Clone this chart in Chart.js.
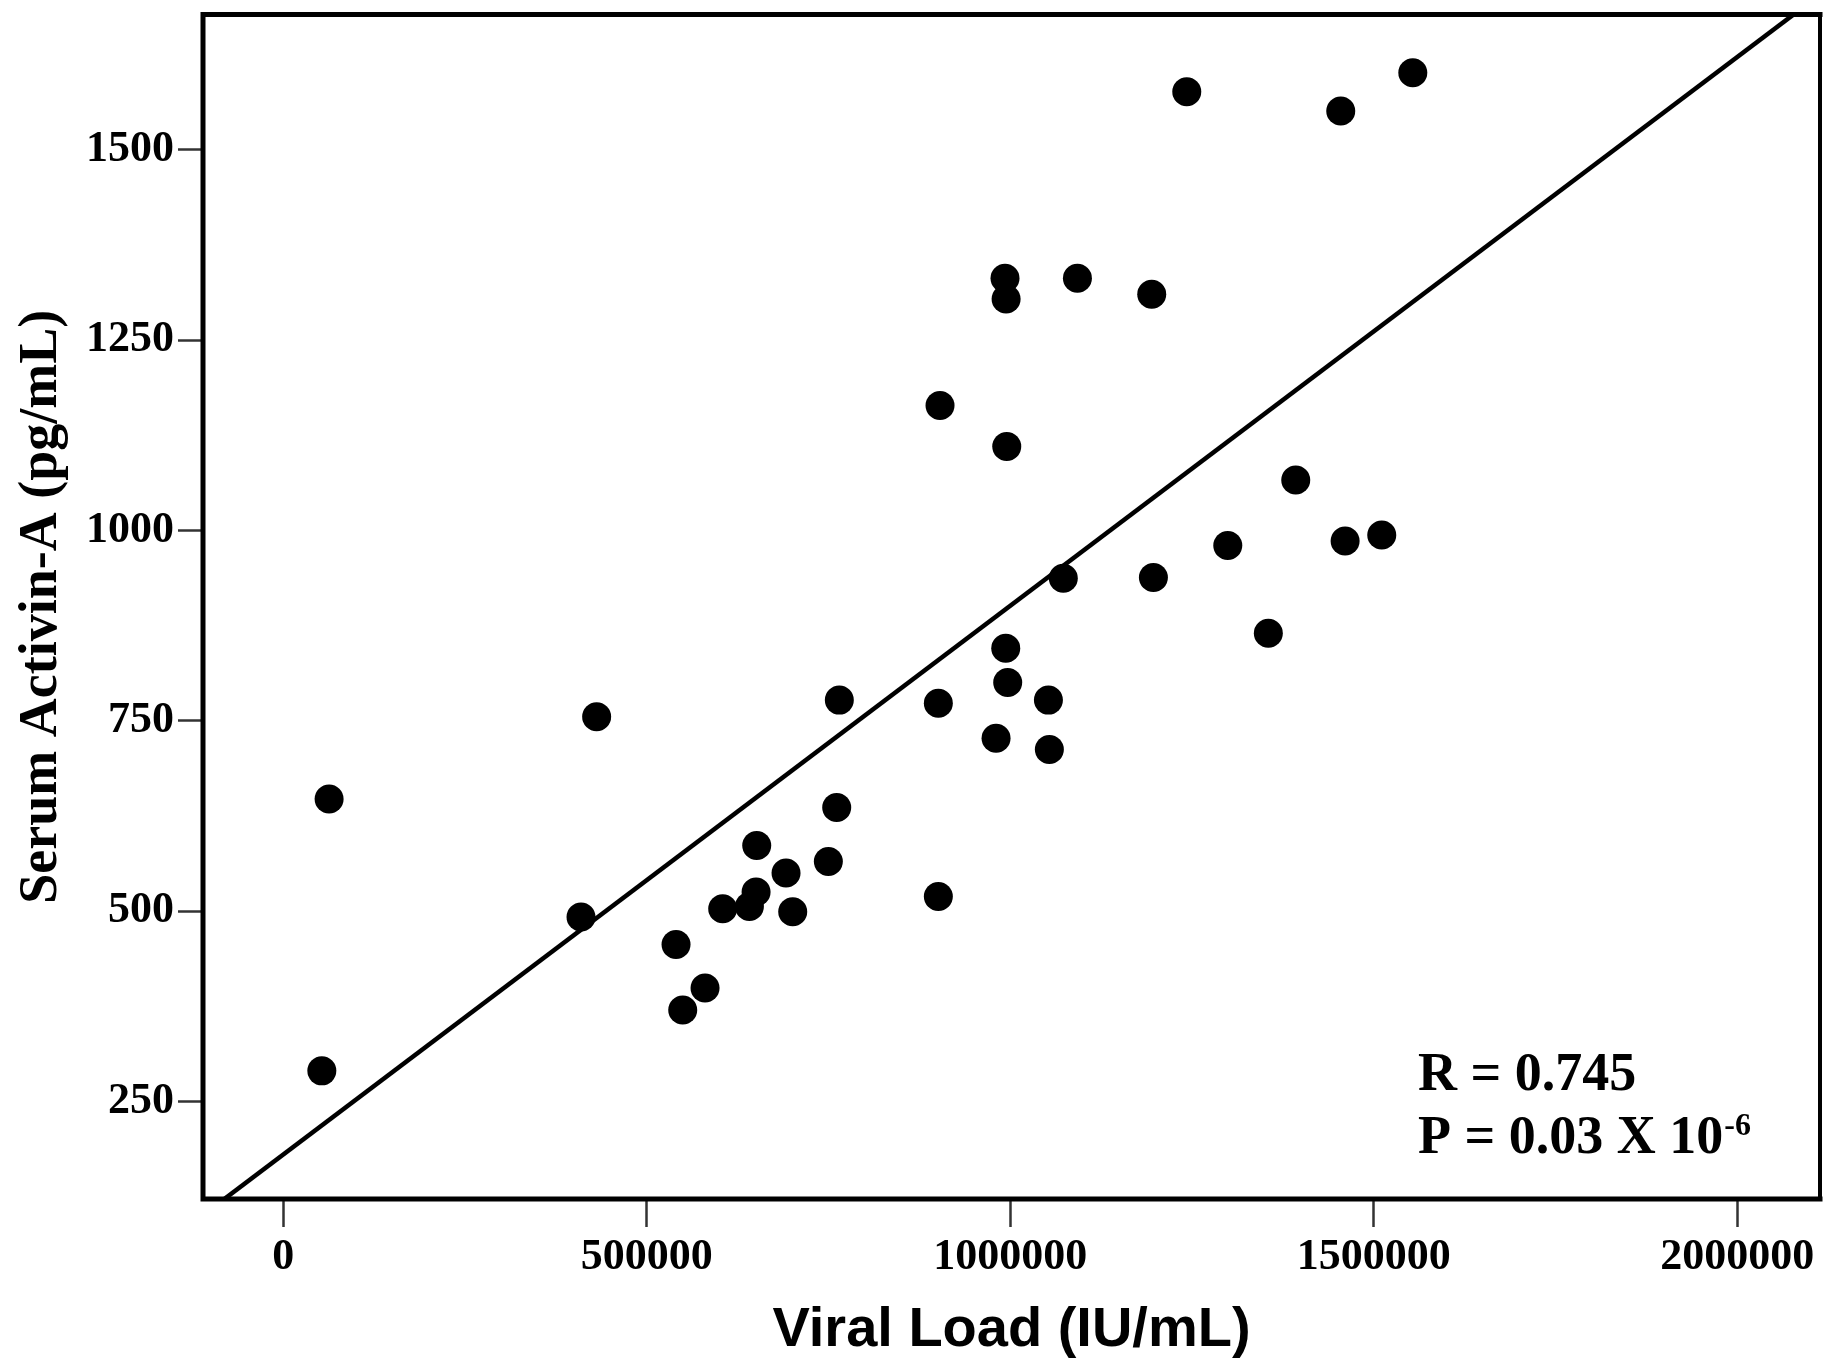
<!DOCTYPE html>
<html>
<head>
<meta charset="utf-8">
<title>Serum Activin-A vs Viral Load</title>
<script src="https://cdn.jsdelivr.net/npm/chart.js@4.4.0/dist/chart.umd.min.js"></script>
<style>
  html, body { margin: 0; padding: 0; background: #fff; }
  canvas { display: block; }
</style>
</head>
<body>
<canvas id="scatterChart" width="1843" height="1364"></canvas>
<script>
// Viral load (IU/mL) per patient
const viralLoad = [53000, 63000, 409500, 431000, 540200, 549400, 580100, 604400, 641100, 650300,
    651200, 691500, 700700, 749700, 761200, 764800, 901000, 901000, 903300, 980400,
    992700, 994200, 995100, 993700, 996400, 1052400, 1053700, 1072900, 1092300, 1194500,
    1196800, 1242700, 1299100, 1354900, 1392600, 1454500, 1460500, 1510900, 1553600];

// Serum Activin-A (pg/mL) per patient
const activinA = [290, 647, 492, 755, 456, 370, 399, 503, 506, 525,
    586, 550, 499, 565, 636, 777, 773, 519, 1164, 727,
    1331, 1304, 1110, 845, 800, 777, 712, 937, 1331, 1310,
    938, 1576, 980, 865, 1066, 1551, 986, 994, 1601];

// Fitted line, ends (clipped by the plot frame)
const fitX = [-200000, 2200000];
const fitY = [36, 1766];

// Axis ticks
const xTicks = [0, 500000, 1000000, 1500000, 2000000];
const yTicks = [250, 500, 750, 1000, 1250, 1500];

// Statistics text
const statR = 'R = 0.745';
const statP = 'P = 0.03 X 10';
const statExp = '-6';

// Draw the black box round the plot area
const framePlugin = {
    id: 'frame',
    afterDatasetsDraw(chart) {
        const { ctx, chartArea: a } = chart;
        ctx.save();
        ctx.strokeStyle = '#000';
        ctx.lineCap = 'square';
        ctx.lineWidth = 5;
        ctx.beginPath();
        ctx.moveTo(a.right, a.top);
        ctx.lineTo(a.left, a.top);
        ctx.lineTo(a.left, a.bottom);
        ctx.lineTo(a.right, a.bottom);
        ctx.stroke();
        ctx.lineWidth = 4;
        ctx.beginPath();
        ctx.moveTo(a.right, a.top);
        ctx.lineTo(a.right, a.bottom);
        ctx.stroke();
        ctx.restore();
    }
};

// R and P values in the lower right corner
const statsPlugin = {
    id: 'stats',
    afterDraw(chart) {
        const { ctx, chartArea: a } = chart;
        const x = a.right - 402;
        ctx.save();
        ctx.fillStyle = '#000';
        ctx.textAlign = 'left';
        ctx.textBaseline = 'alphabetic';
        ctx.font = 'bold 54px "Liberation Serif"';
        ctx.fillText(statR, x, a.bottom - 109);
        ctx.fillText(statP, x, a.bottom - 46);
        const w = ctx.measureText(statP).width;
        ctx.font = 'bold 32px "Liberation Serif"';
        ctx.fillText(statExp, x + w + 1, a.bottom - 64);
        ctx.restore();
    }
};

const tickFont = { family: 'Liberation Serif', weight: 'bold', size: 44 };

const ctx = document.getElementById('scatterChart').getContext('2d');
const chart = new Chart(ctx, {
    type: 'scatter',
    data: {
        datasets: [
            {
                label: 'Patients',
                data: viralLoad.map((v, i) => ({ x: v, y: activinA[i] })),
                backgroundColor: '#000',
                borderWidth: 0,
                pointRadius: 14.5,
                pointHoverRadius: 14.5,
                order: 1
            },
            {
                label: 'Fit',
                data: fitX.map((v, i) => ({ x: v, y: fitY[i] })),
                showLine: true,
                borderColor: '#000',
                borderWidth: 4.5,
                pointRadius: 0,
                clip: 0,
                order: 2
            }
        ]
    },
    options: {
        responsive: false,
        animation: false,
        devicePixelRatio: 1,
        layout: { padding: { left: 0, top: 14, right: 23, bottom: 0 } },
        plugins: {
            legend: { display: false },
            tooltip: { enabled: false }
        },
        scales: {
            x: {
                type: 'linear',
                min: -110450,
                max: 2113700,
                afterBuildTicks: s => { s.ticks = xTicks.map(v => ({ value: v })); },
                afterFit: s => {
                    s.height = 165;
                    s.paddingLeft = 0;
                    s.paddingRight = 0;
                },
                border: { display: false },
                grid: {
                    drawOnChartArea: false,
                    drawTicks: true,
                    tickLength: 28,
                    tickColor: '#333',
                    tickWidth: 2.5
                },
                ticks: {
                    color: '#000',
                    font: tickFont,
                    padding: 4,
                    maxRotation: 0,
                    autoSkip: false,
                    callback: v => String(v)
                },
                title: {
                    display: true,
                    text: 'Viral Load (IU/mL)',
                    color: '#000',
                    font: { family: 'Liberation Sans', weight: 'bold', size: 56 },
                    padding: { top: 8, bottom: 0 }
                }
            },
            y: {
                type: 'linear',
                min: 121.7,
                max: 1677.6,
                afterBuildTicks: s => { s.ticks = yTicks.map(v => ({ value: v })); },
                afterFit: s => {
                    s.width = 203;
                    s.paddingTop = 0;
                    s.paddingBottom = 0;
                },
                border: { display: false },
                grid: {
                    drawOnChartArea: false,
                    drawTicks: true,
                    tickLength: 25,
                    tickColor: '#333',
                    tickWidth: 2.5
                },
                ticks: {
                    color: '#000',
                    font: tickFont,
                    padding: 4,
                    autoSkip: false,
                    callback: v => String(v)
                },
                title: {
                    display: true,
                    text: 'Serum Activin-A (pg/mL)',
                    color: '#000',
                    font: { family: 'Liberation Serif', weight: 'bold', size: 54 },
                    padding: { top: 10, bottom: 0 }
                }
            }
        }
    },
    plugins: [framePlugin, statsPlugin]
});
</script>
</body>
</html>
